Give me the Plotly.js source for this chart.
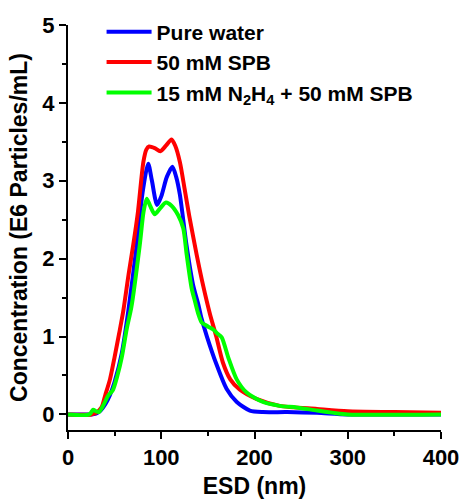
<!DOCTYPE html>
<html>
<head>
<meta charset="utf-8">
<script src="https://cdn.plot.ly/plotly-3.0.1.min.js"></script>
<style>html,body{margin:0;padding:0;background:#fff;}#chart{width:463px;height:499px;}</style>
</head>
<body>
<div id="chart"></div>
<script>
// Series names
const seriesNames = ["Pure water", "50 mM SPB", "15 mM N<sub>2</sub>H<sub>4</sub> + 50 mM SPB"];

// Pure water (blue)
const waterX = [0, 25, 30, 35, 40, 45, 50, 57.6, 64.7, 73.7, 80, 86, 90, 95.5, 100, 106, 112, 116, 120, 127, 134, 140, 143, 149, 159, 170, 181, 195, 209, 235, 267, 300, 400];
const waterY = [0, 0, 0.01, 0.05, 0.13, 0.25, 0.42, 0.78, 1.33, 2.18, 2.85, 3.22, 3.0, 2.69, 2.8, 3.05, 3.18, 3.05, 2.82, 2.18, 1.67, 1.4, 1.24, 1.0, 0.65, 0.33, 0.16, 0.05, 0.03, 0.03, 0.02, 0, 0];

// 50 mM SPB (red)
const spbX = [0, 25, 30, 36, 40, 45, 50, 55, 59.3, 65, 70, 75, 80.8, 84, 87, 93, 99, 105, 111, 115, 120, 125, 130, 138, 145, 152, 159, 166, 174, 184, 202, 227, 267, 300, 350, 400];
const spbY = [0, 0, 0.02, 0.09, 0.25, 0.45, 0.74, 1.05, 1.33, 1.8, 2.18, 2.6, 3.24, 3.4, 3.44, 3.42, 3.38, 3.45, 3.53, 3.45, 3.24, 2.9, 2.55, 2.05, 1.65, 1.3, 1.0, 0.67, 0.45, 0.32, 0.2, 0.11, 0.07, 0.04, 0.03, 0.02];

// 15 mM N2H4 + 50 mM SPB (green)
const hydX = [0, 23, 27, 30, 33, 38, 43, 48, 53, 57.6, 63, 68, 77, 81, 84.4, 88, 93, 99, 105, 111, 118, 123.6, 127.3, 132.6, 136.2, 140, 143.4, 150, 155.8, 160, 164.8, 171.9, 180.9, 191.6, 209, 227, 245, 267, 285, 300, 400];
const hydY = [0, 0, 0.06, 0.04, 0.03, 0.12, 0.24, 0.31, 0.5, 0.73, 1.1, 1.38, 2.18, 2.6, 2.77, 2.68, 2.57, 2.65, 2.72, 2.68, 2.56, 2.39, 2.05, 1.62, 1.45, 1.28, 1.18, 1.13, 1.09, 1.04, 0.99, 0.73, 0.45, 0.28, 0.16, 0.11, 0.09, 0.05, 0.02, 0, 0];

// Axis ticks
const xTicks = [0, 100, 200, 300, 400];
const yTicks = [0, 1, 2, 3, 4, 5];

const FONT = "Arial, 'Liberation Sans', sans-serif";
const mk = (x, y, name, color) => ({
  x: x, y: y, name: name, type: "scatter", mode: "lines",
  line: {color: color, width: 4, shape: "spline", smoothing: 0.7}
});

const data = [
  mk(waterX, waterY, seriesNames[0], "#0000ff"),
  mk(spbX, spbY, seriesNames[1], "#ff0000"),
  mk(hydX, hydY, seriesNames[2], "#00ff00")
];

const axisCommon = {
  showline: true, linecolor: "#000", linewidth: 2,
  ticks: "outside", ticklen: 7, tickwidth: 2, tickcolor: "#000",
  showgrid: false, zeroline: false, mirror: false,
  tickfont: {family: FONT, size: 22, color: "#000", weight: "bold"}
};

const layout = {
  width: 463, height: 499,
  margin: {l: 68, r: 22, t: 22, b: 69, pad: 0},
  paper_bgcolor: "#fff", plot_bgcolor: "#fff",
  showlegend: true,
  legend: {
    x: 0.09, y: 1.033, xanchor: "left", yanchor: "top",
    bgcolor: "rgba(0,0,0,0)", borderwidth: 0,
    itemwidth: 45,
    font: {family: FONT, size: 21, color: "#000", weight: "bold"},
    tracegroupgap: 0
  },
  xaxis: Object.assign({}, axisCommon, {
    range: [0, 400], tickvals: xTicks, ticktext: xTicks.map(String),
    minor: {dtick: 50, tick0: 0, ticks: "outside", ticklen: 4, tickwidth: 2, tickcolor: "#000"},
    title: {text: "ESD (nm)", font: {family: FONT, size: 23, color: "#000", weight: "bold"}, standoff: 12}
  }),
  yaxis: Object.assign({}, axisCommon, {
    range: [-0.2, 5], tickvals: yTicks, ticktext: yTicks.map(String),
    minor: {dtick: 0.5, tick0: 0, ticks: "outside", ticklen: 4, tickwidth: 2, tickcolor: "#000"},
    title: {text: "Concentration (E6 Particles/mL)", font: {family: FONT, size: 23, color: "#000", weight: "bold"}, standoff: 8}
  })
};

Plotly.newPlot("chart", data, layout, {staticPlot: true, displayModeBar: false});
</script>
</body>
</html>
